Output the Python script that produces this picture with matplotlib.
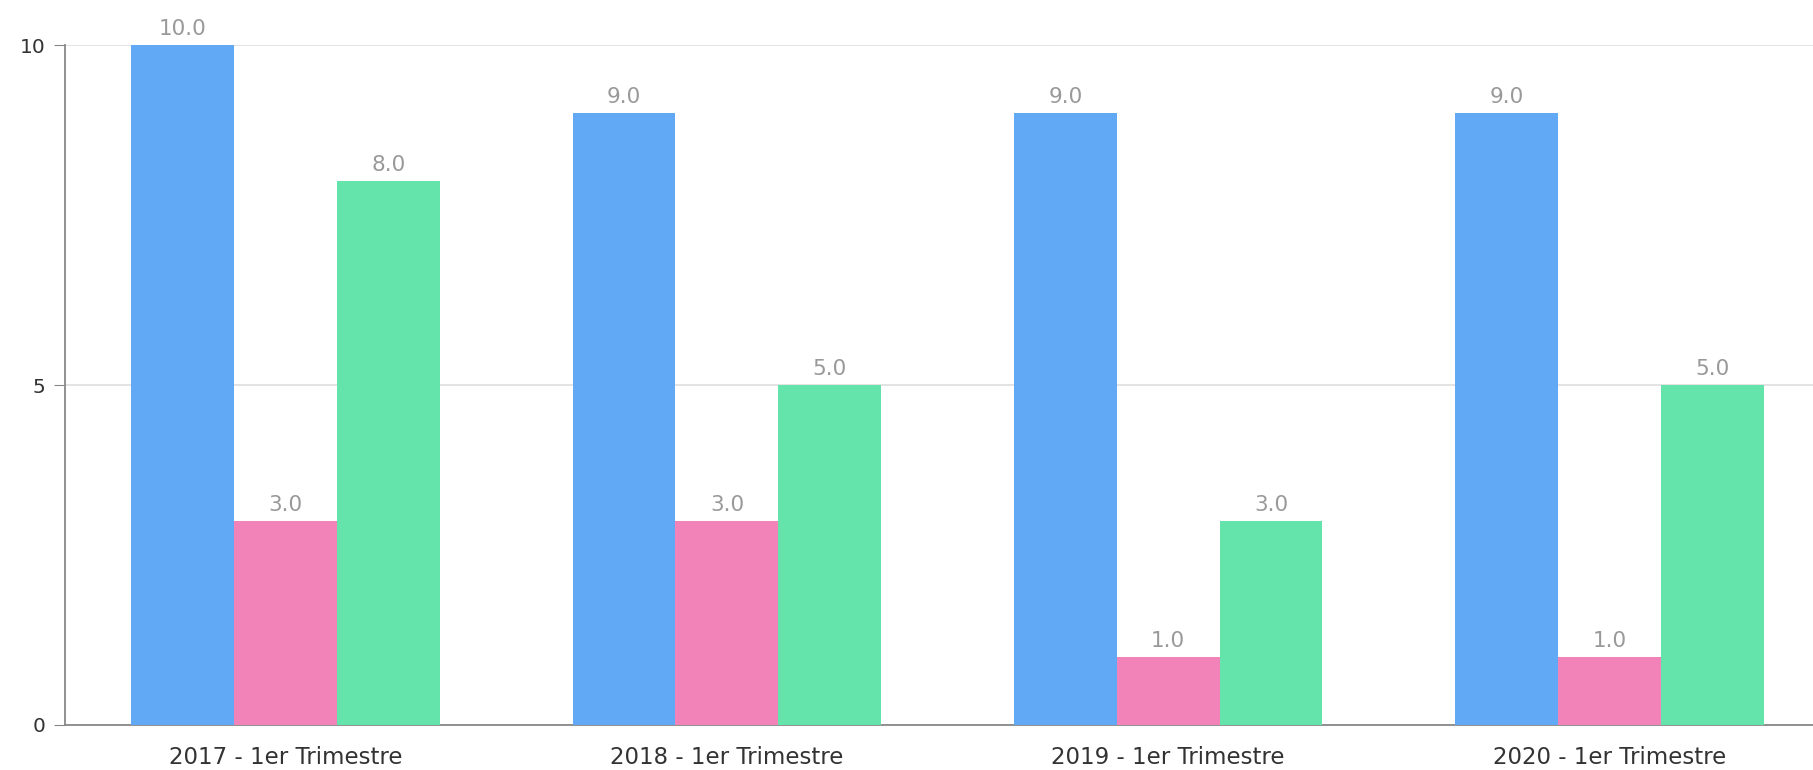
import matplotlib
matplotlib.use("Agg")
import matplotlib.pyplot as plt
import numpy as np

categories = ["2017 - 1er Trimestre", "2018 - 1er Trimestre", "2019 - 1er Trimestre", "2020 - 1er Trimestre"]
serie_bleue = [10, 9, 9, 9]
serie_rose = [3, 3, 1, 1]
serie_verte = [8, 5, 3, 5]
y_ticks = [0, 5, 10]

colors = ["#61A9F4", "#F183B9", "#64E3AA"]
series = [serie_bleue, serie_rose, serie_verte]

W, H = 1813, 770
fig = plt.figure(figsize=(W / 100, H / 100), dpi=100)
left_px, right_px, top_px, bottom_px = 65, 1830, 45, 725
ax = fig.add_axes([left_px / W, (H - bottom_px) / H, (right_px - left_px) / W, (bottom_px - top_px) / H])

x = np.arange(len(categories))
bw = 0.233
for i, (vals, c) in enumerate(zip(series, colors)):
    pos = x + (i - 1) * bw
    ax.bar(pos, vals, width=bw, color=c, zorder=3, linewidth=0)
    for p, v in zip(pos, vals):
        ax.annotate(f"{v:.1f}", (p, v), xytext=(0, 4), textcoords="offset points",
                    ha="center", va="bottom", color="#999999", fontsize=15.5, clip_on=False)

ax.set_xlim(-0.5, len(categories) - 0.5)
ax.set_ylim(0, 10)
ax.set_yticks(y_ticks)
ax.set_xticks(x)
ax.set_xticklabels(categories)
ax.yaxis.grid(True, color="#e0e0e0", linewidth=1.3, zorder=0)
ax.set_axisbelow(True)
for s in ["top", "right"]:
    ax.spines[s].set_visible(False)
for s in ["left", "bottom"]:
    ax.spines[s].set_color("#888888")
    ax.spines[s].set_linewidth(1.3)
ax.tick_params(axis="y", length=8, color="#888888", labelsize=14.5, labelcolor="#333333", pad=6)
ax.tick_params(axis="x", length=0, labelsize=16.5, labelcolor="#333333", pad=15)

fig.savefig("out.png", dpi=100)
